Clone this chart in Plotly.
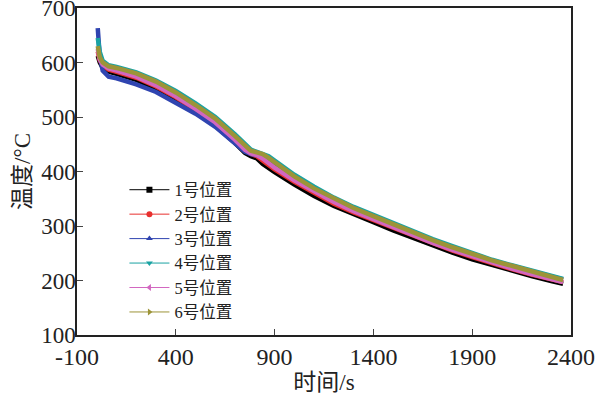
import plotly.graph_objects as go

time_s = [5, 15, 30, 60, 100, 200, 300, 400, 500, 600, 700, 750, 780, 810, 840, 870, 900,
          1000, 1100, 1200, 1300, 1400, 1500, 1600, 1700, 1800, 1900, 2000, 2100, 2200, 2300, 2360]

pos1 = [612, 600, 590, 583, 579, 568, 552, 532, 509, 484, 452, 434, 428, 424, 414, 406, 399,
        376, 355, 337, 321, 307, 292, 278, 264, 251, 239, 228, 218, 208, 199, 194]
pos2 = [620, 604, 594, 587, 583, 572, 556, 536, 513, 488, 456, 438, 432, 428, 420, 411, 404,
        381, 360, 341, 325, 311, 296, 282, 268, 255, 243, 231, 221, 211, 202, 197]
pos3 = [663, 612, 585, 574, 571, 560, 546, 527, 506, 482, 452, 436, 432, 430, 428, 422, 414,
        390, 369, 350, 333, 318, 303, 288, 274, 261, 248, 236, 226, 216, 207, 202]
pos4 = [645, 620, 603, 595, 592, 582, 567, 548, 525, 500, 468, 450, 440, 436, 433, 428, 420,
        394, 372, 352, 335, 320, 305, 290, 276, 263, 250, 238, 228, 218, 208, 203]
pos5 = [625, 606, 596, 589, 585, 574, 558, 538, 515, 490, 458, 440, 433, 430, 424, 415, 407,
        384, 363, 344, 327, 312, 297, 283, 269, 256, 244, 232, 222, 212, 202, 197]
pos6 = [630, 610, 600, 593, 590, 580, 565, 545, 522, 497, 465, 447, 438, 435, 432, 425, 417,
        391, 369, 350, 333, 318, 303, 288, 274, 261, 248, 237, 227, 217, 207, 201]

names = ["1号位置", "2号位置", "3号位置", "4号位置", "5号位置", "6号位置"]
series = [pos1, pos2, pos3, pos4, pos5, pos6]
colors = ["#000000", "#e8302e", "#2f44b0", "#1aa3a3", "#d267c0", "#9c9438"]
symbols = ["square", "circle", "triangle-up", "triangle-down", "triangle-left", "triangle-right"]

x_ticks = [-100, 400, 900, 1400, 1900, 2400]
x_tick_labels = ["-100", "400", "900", "1400", "1900", "2400"]
y_ticks = [100, 200, 300, 400, 500, 600, 700]

FONT = "Liberation Serif, Times New Roman, Noto Sans CJK SC, serif"

fig = go.Figure()
for name, vals, c in zip(names, series, colors):
    fig.add_trace(go.Scatter(x=time_s, y=vals, mode="lines", name=name,
                             line=dict(color=c, width=4.5), showlegend=False))
for name, c, s in zip(names, colors, symbols):
    fig.add_trace(go.Scatter(x=[None], y=[None], mode="lines+markers", name=name,
                             line=dict(color=c, width=1), marker=dict(color=c, symbol=s, size=6)))

fig.update_layout(
    width=598, height=395,
    margin=dict(l=77, r=27, t=8, b=60),
    paper_bgcolor="white", plot_bgcolor="white",
    font=dict(family=FONT, size=24, color="#222"),
    legend=dict(x=0.096, y=0.497, xanchor="left", yanchor="top",
                bgcolor="rgba(0,0,0,0)", font=dict(size=16.5, family=FONT),
                tracegroupgap=0, itemwidth=40),
    xaxis=dict(range=[-100, 2400], tickvals=x_ticks, ticktext=x_tick_labels,
               ticks="inside", ticklen=6,
               showline=True, linecolor="#222", linewidth=1.5, mirror=True,
               showgrid=False, zeroline=False, automargin=False,
               ticklabeloverflow="allow", ticklabelstandoff=-1,
               title=dict(text="时间/s", standoff=0, font=dict(size=23))),
    yaxis=dict(range=[100, 700], tickvals=y_ticks, ticks="inside", ticklen=6,
               showline=True, linecolor="#222", linewidth=1.5, mirror=True,
               showgrid=False, zeroline=False, automargin=False,
               ticklabeloverflow="allow", ticklabelstandoff=-5,
               tickfont=dict(size=23),
               title=dict(text="温度/°C", standoff=4, font=dict(size=23))),
)

fig.write_html("out.html", config={"displayModeBar": False},
               post_script="document.body.style.margin='0';document.body.style.padding='0';")
